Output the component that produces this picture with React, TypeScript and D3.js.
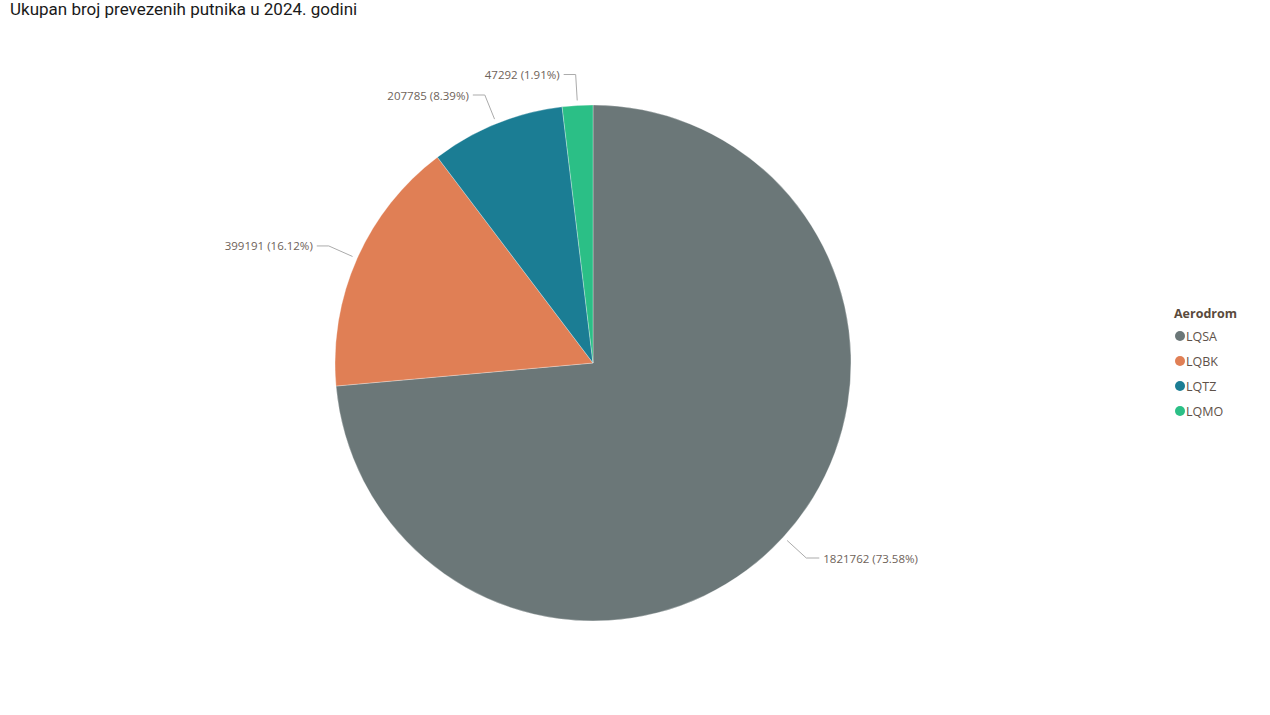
import React from "react";
import * as d3 from "d3";

const categories = ["LQSA", "LQBK", "LQTZ", "LQMO"];
const values = [1821762, 399191, 207785, 47292];
const colors = ["#6B7778", "#E07F55", "#1B7D94", "#2BBF86"];
const title = "Ukupan broj prevezenih putnika u 2024. godini";
const legendTitle = "Aerodrom";

const W = 1270;
const H = 715;
const cx = 593;
const cy = 363;
const R = 258;

export default function App() {
  const total = d3.sum(values);
  const pie = d3.pie<number>().sort(null).value((d) => d)(values);
  const arc = d3.arc<d3.PieArcDatum<number>>().innerRadius(0).outerRadius(R);
  const labelColor = "#6E6259";

  return (
    <svg width={W} height={H} style={{ position: "absolute", left: 0, top: 0, background: "#fff" }}>
      <text x={10} y={15} fontFamily="Roboto, 'DejaVu Sans', sans-serif" fontSize={17} fontWeight={400} fill="#1a1a1a">
        {title}
      </text>
      <g transform={`translate(${cx},${cy})`}>
        {pie.map((p, i) => (
          <path key={i} d={arc(p) || ""} fill={colors[i]} stroke="#fff" strokeWidth={0.3} />
        ))}
        {pie.map((p, i) => {
          const mid = (p.startAngle + p.endAngle) / 2;
          const sx = Math.sin(mid), sy = -Math.cos(mid);
          const r1 = R + 5, r2 = R + 31;
          const x1 = r1 * sx, y1 = r1 * sy;
          const x2 = r2 * sx, y2 = r2 * sy;
          const right = sx >= 0;
          const x3 = x2 + (right ? 13 : -12);
          const pct = ((values[i] / total) * 100).toFixed(2);
          return (
            <g key={"l" + i}>
              <polyline
                points={`${x1},${y1} ${x2},${y2} ${x3},${y2}`}
                fill="none"
                stroke="#ABABAB"
                strokeWidth={1}
              />
              <text
                x={x3 + (right ? 4 : -4)}
                y={y2 + 4.5}
                textAnchor={right ? "start" : "end"}
                fontFamily="'Open Sans', 'Noto Sans', sans-serif"
                fontSize={11.5}
                fill={labelColor}
              >
                {`${values[i]} (${pct}%)`}
              </text>
            </g>
          );
        })}
      </g>
      <g transform="translate(1174,0)">
        <text x={0} y={318} fontFamily="'Open Sans', 'Noto Sans', sans-serif" fontSize={12.5} fontWeight="bold" fill="#5A4A3C">
          {legendTitle}
        </text>
        {categories.map((c, i) => (
          <g key={c} transform={`translate(0,${336 + i * 25})`}>
            <circle cx={6} cy={0} r={5} fill={colors[i]} />
            <text x={12} y={4.5} fontFamily="'Open Sans', 'Noto Sans', sans-serif" fontSize={12.5} fill="#5E5249">
              {c}
            </text>
          </g>
        ))}
      </g>
    </svg>
  );
}
